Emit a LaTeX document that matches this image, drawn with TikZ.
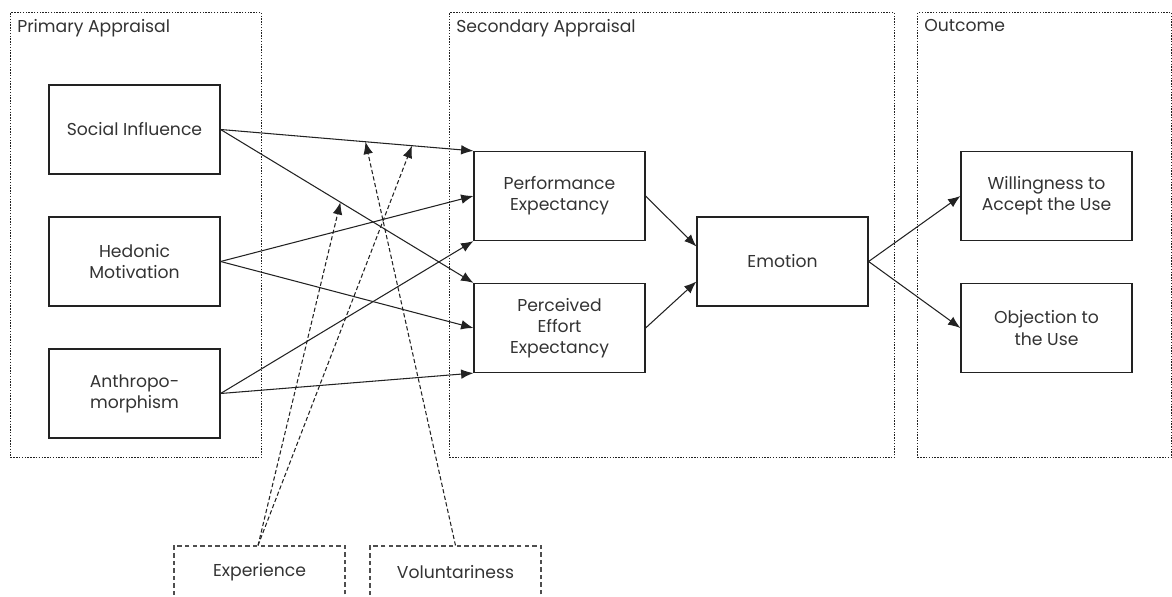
\documentclass[tikz,border=0pt]{standalone}
\usepackage{fontspec}
\setmainfont{Poppins}
\usetikzlibrary{arrows.meta,calc}
\definecolor{ink}{HTML}{222222}
\definecolor{txt}{HTML}{333333}
\begin{document}
\begin{tikzpicture}[x=0.02cm,y=-0.02cm,
  every node/.style={font=\fontsize{9.8}{12}\selectfont, text=txt},
  grp/.style={draw=ink, dash pattern=on 0.8pt off 0.8pt, line width=0.7pt, inner sep=0, anchor=north west},
  grplabel/.style={anchor=north west, inner sep=0},
  box/.style={draw=ink, line width=0.7pt, minimum width=3.42cm, minimum height=1.78cm, align=center, inner sep=0},
  modbox/.style={box, draw=ink!80, line width=0.6pt, dash pattern=on 2.5pt off 1.8pt},
  link/.style={draw=ink, line width=0.6pt, -{Latex[length=7pt,width=5.5pt]}},
  modlink/.style={link, dash pattern=on 2.4pt off 1.4pt}]
\useasboundingbox (0,0) rectangle (1172,597);

% appraisal stages
\node[grp, minimum width=5.02cm, minimum height=8.9cm] (primary) at (10,12) {};
\node[grp, minimum width=8.9cm, minimum height=8.9cm] (secondary) at (449,12) {};
\node[grp, minimum width=5.08cm, minimum height=8.9cm] (outcome) at (917,12) {};
\node[grplabel] (primarylbl) at (17,19) {Primary Appraisal};
\node[grplabel] (secondarylbl) at (456,19) {Secondary Appraisal};
\node[grplabel] (outcomelbl) at (924,19) {Outcome};

% constructs
\node[box] (si) at (134.5,129.5) {Social Influence};
\node[box] (hm) at (134.5,261.5) {Hedonic\\Motivation};
\node[box] (an) at (134.5,393.5) {Anthropo-\\morphism};
\node[box] (pe) at (559.5,196) {Performance\\Expectancy};
\node[box] (pee) at (559.5,328) {Perceived\\Effort\\Expectancy};
\node[box] (emo) at (782.5,261.5) {Emotion};
\node[box] (wil) at (1046.5,196) {Willingness to\\Accept the Use};
\node[box] (obj) at (1046.5,328) {Objection to\\the Use};

% moderators
\node[modbox] (exp) at (259.5,590.5) {};
\node (explbl) at (259.5,572) {Experience};
\node[modbox] (vol) at (455.5,590.5) {};
\node (vollbl) at (455.5,572) {Voluntariness};

% primary -> secondary appraisal
\draw[link] (si.east) -- coordinate[pos=0.573] (voltip) coordinate[pos=0.757] (exptipA) (pe.north west);
\draw[link] (si.east) -- coordinate[pos=0.474] (exptipB) (pee.north west);
\draw[link] (hm.east) -- (pe.west);
\draw[link] (hm.east) -- (pee.west);
\draw[link] (an.east) -- (pe.south west);
\draw[link] (an.east) -- (pee.south west);

% secondary appraisal -> emotion -> outcome
\draw[link] (pe.east) -- ($(emo.west)+(0,-15)$);
\draw[link] (pee.east) -- ($(emo.west)+(0,20)$);
\draw[link] (emo.east) -- (wil.west);
\draw[link] (emo.east) -- (obj.west);

% moderating effects
\draw[modlink] ($(exp.north)+(-1.5,0)$) -- (exptipA);
\draw[modlink] ($(exp.north)+(-1.5,0)$) -- (exptipB);
\draw[modlink] (vol.north) -- (voltip);
\end{tikzpicture}
\end{document}
